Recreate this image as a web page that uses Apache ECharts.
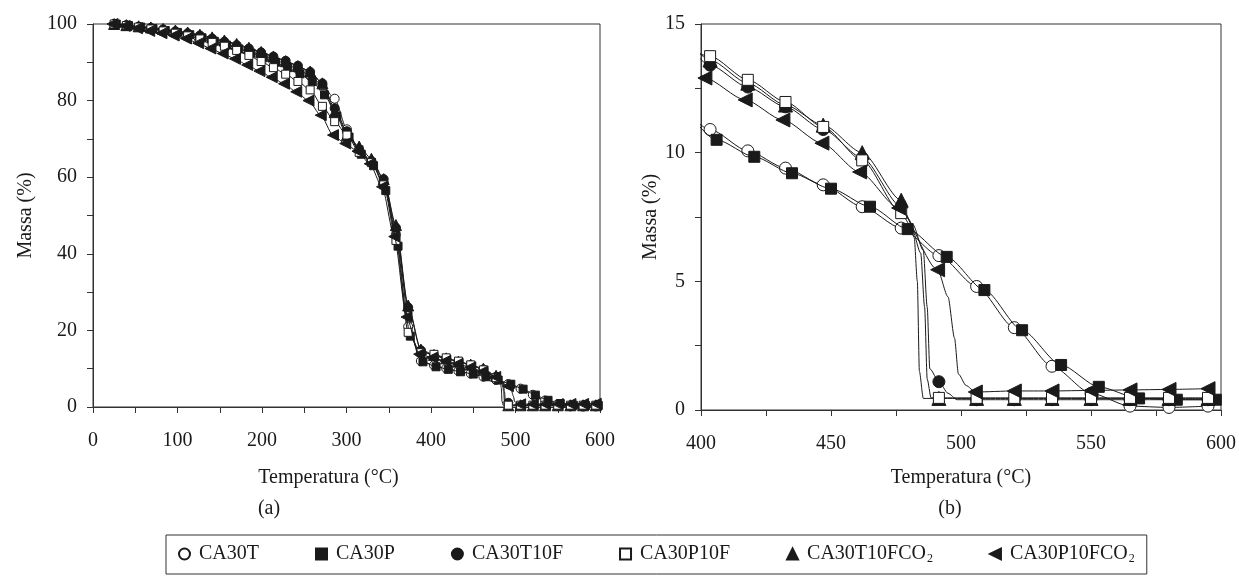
<!DOCTYPE html>
<html>
<head>
<meta charset="utf-8">
<script src="https://cdn.jsdelivr.net/npm/echarts@6/dist/echarts.min.js"></script>
<style>
html, body { margin: 0; background: #fff; }
#main { width: 1239px; height: 581px; }
</style>
</head>
<body>
<div id="main"></div>
<script>
// temperatures (°C) of the plotted points, three slightly shifted sample grids
var tempsA = [25, 39.5, 54, 68.5, 83, 97.5, 112, 126.5, 141, 155.5, 170, 184.5, 199, 213.5, 228, 242.5, 257, 271.5, 286, 300.5,
    315, 329.5, 344, 358.5, 373, 388, 403.5, 418, 432.5, 447, 462, 477, 491.5, 506, 520.5, 535, 550, 565, 580, 595];
var tempsB = [27.5, 42, 56.5, 71, 85.5, 100, 114.5, 129, 143.5, 158, 172.5, 187, 201.5, 216, 230.5, 245, 259.5, 274, 288.5, 303,
    317.5, 332, 346.5, 361, 375.5, 390.5, 406, 420.5, 435, 450, 465, 479.5, 494.5, 509, 523.5, 538.5, 553, 568.5, 583, 598];
var tempsC = [23, 37.5, 52, 66.5, 81, 95.5, 110, 124.5, 139, 153.5, 168, 182.5, 197, 211.5, 226, 240.5, 255, 269.5, 284, 298.5,
    313, 327.5, 342, 356.5, 371, 386, 401.5, 417, 431.5, 446.5, 461, 476, 491, 505.5, 520.5, 535, 550, 565, 580, 595];

// massa (%)
var ca30t = [100, 99.6, 99.2, 98.8, 98.4, 97.9, 97.3, 96.6, 95.8, 94.9, 94.0, 93.0, 91.9, 90.8, 89.6, 88.2, 86.5, 84.0, 80.5, 72.5,
    67.0, 64.0, 58.5, 45.0, 21.0, 12.0, 10.9, 10.07, 9.4, 8.75, 7.9, 7.07, 6.0, 4.8, 3.2, 1.7, 0.65, 0.15, 0.1, 0.15];
var ca30p = [100, 99.6, 99.2, 98.8, 98.3, 97.8, 97.2, 96.4, 95.5, 94.5, 93.5, 92.4, 91.2, 90.0, 88.6, 87.0, 85.0, 81.5, 76.0, 70.5,
    66.0, 63.0, 56.5, 42.0, 18.5, 11.8, 10.5, 9.84, 9.2, 8.6, 7.9, 7.03, 5.95, 4.66, 3.1, 1.75, 0.9, 0.45, 0.4, 0.4];
var ca30t10f = [100, 99.7, 99.3, 99.0, 98.6, 98.1, 97.6, 97.0, 96.2, 95.4, 94.5, 93.6, 92.6, 91.5, 90.4, 89.1, 87.5, 84.5, 78.0, 72.0,
    67.2, 64.2, 59.5, 46.8, 26.0, 14.8, 13.4, 12.55, 11.78, 10.9, 9.8, 7.9, 1.1, 0.4, 0.4, 0.4, 0.4, 0.4, 0.4, 0.4];
var ca30p10f = [100, 99.6, 99.2, 98.7, 98.2, 97.6, 96.9, 96.1, 95.2, 94.2, 93.1, 91.8, 90.2, 88.6, 86.9, 85.0, 82.8, 78.5, 74.5, 71.0,
    66.5, 63.8, 58.0, 43.5, 19.5, 14.2, 13.75, 12.83, 11.97, 11.0, 9.7, 7.65, 0.47, 0.47, 0.47, 0.47, 0.47, 0.47, 0.47, 0.47];
var ca30t10fco2 = [100, 99.7, 99.4, 99.1, 98.7, 98.3, 97.8, 97.2, 96.5, 95.7, 94.8, 93.8, 92.7, 91.5, 90.3, 89.0, 87.6, 84.5, 77.0, 71.0,
    68.0, 64.8, 59.5, 47.5, 26.5, 15.0, 13.6, 12.7, 11.85, 11.07, 10.0, 8.15, 0.45, 0.45, 0.45, 0.45, 0.45, 0.45, 0.45, 0.45];
var ca30p10fco2 = [100, 99.5, 98.9, 98.2, 97.6, 97.0, 96.2, 95.0, 93.6, 92.3, 90.9, 89.3, 87.7, 86.1, 84.4, 82.3, 80.0, 76.2, 71.0, 68.8,
    66.8, 63.5, 57.5, 44.5, 23.5, 13.8, 12.9, 12.05, 11.27, 10.37, 9.25, 7.85, 5.45, 0.7, 0.74, 0.74, 0.76, 0.78, 0.8, 0.83];

// line-only points of the sudden drops (no marker)
var ca30t10fDropT = [481.5, 485.5, 487, 488, 495, 498.5];
var ca30t10fDropM = [7.2, 6.2, 4.0, 1.6, 0.65, 0.4];
var ca30p10fDropT = [481, 484.5, 486, 487, 488.5];
var ca30p10fDropM = [7.1, 6.1, 4.0, 1.2, 0.47];
var ca30t10fco2DropT = [480, 482, 483.2, 484, 485.5];
var ca30t10fco2DropM = [7.4, 6.7, 5.0, 1.5, 0.45];
var ca30p10fco2DropT = [495, 497.5, 499, 502];
var ca30p10fco2DropM = [4.4, 2.8, 1.4, 0.95];

var FONT = '"Liberation Serif", "Times New Roman", serif';
var INK = '#1a1a1a';

function pts(temps, masses, dropT, dropM) {
    var out = [];
    temps.forEach(function(t, i) {
        out.push({ value: [t, masses[i]] });
    });
    (dropT || []).forEach(function(t, i) {
        out.push({ value: [t, dropM[i]], symbol: 'none' });
    });
    out.sort(function(a, b) { return a.value[0] - b.value[0]; });
    return out;
}

var leftTri = 'path://M0,5L10,0L10,10Z';

var defs = [
    { name: 'CA30T', data: pts(tempsA, ca30t), symbol: 'circle', fill: '#fff', size: [9, 12], z: 2 },
    { name: 'CA30P', data: pts(tempsB, ca30p), symbol: 'rect', fill: INK, size: [8, 11], z: 3 },
    { name: 'CA30T10F', data: pts(tempsA, ca30t10f, ca30t10fDropT, ca30t10fDropM), symbol: 'circle', fill: INK, size: [9, 12], z: 2 },
    { name: 'CA30P10F', data: pts(tempsA, ca30p10f, ca30p10fDropT, ca30p10fDropM), symbol: 'rect', fill: '#fff', size: [8, 11], z: 4 },
    { name: 'CA30T10FCO2', data: pts(tempsA, ca30t10fco2, ca30t10fco2DropT, ca30t10fco2DropM), symbol: 'triangle', fill: INK, size: [11, 14], z: 3 },
    { name: 'CA30P10FCO2', data: pts(tempsC, ca30p10fco2, ca30p10fco2DropT, ca30p10fco2DropM), symbol: leftTri, fill: INK, size: [11, 14], z: 5 }
];

var series = [];
[0, 1].forEach(function(g) {
    defs.forEach(function(d) {
        series.push({
            name: d.name,
            type: 'line',
            xAxisIndex: g,
            yAxisIndex: g,
            data: d.data,
            smooth: 0.25,
            smoothMonotone: 'x',
            symbol: d.symbol,
            symbolSize: d.size[g],
            showAllSymbol: true,
            clip: true,
            z: d.z,
            lineStyle: { color: INK, width: 1 },
            itemStyle: { color: d.fill, borderColor: INK, borderWidth: 1 },
            emphasis: { disabled: true },
            animation: false
        });
    });
});

function tickLabel(step) {
    return function(v) {
        return Math.abs(v / step - Math.round(v / step)) < 1e-6 ? String(v) : '';
    };
}

function xAx(g, min, max, interval, labelStep, gap, namePad) {
    return {
        type: 'value', gridIndex: g, min: min, max: max, interval: interval,
        axisLine: { lineStyle: { color: '#333', width: 1 } },
        axisTick: { length: 6, lineStyle: { color: '#333' } },
        splitLine: { show: false },
        axisLabel: { formatter: tickLabel(labelStep), fontSize: 20, fontFamily: FONT, color: INK, margin: 24 },
        name: 'Temperatura (°C)', nameLocation: 'middle', nameGap: gap,
        nameTextStyle: { fontSize: 20, fontFamily: FONT, color: INK, padding: namePad }
    };
}

function yAx(g, min, max, interval, labelStep, gap) {
    return {
        type: 'value', gridIndex: g, min: min, max: max, interval: interval,
        axisLine: { show: true, lineStyle: { color: '#333', width: 1 } },
        axisTick: { show: true, length: 6, lineStyle: { color: '#333' } },
        splitLine: { show: false },
        axisLabel: { formatter: tickLabel(labelStep), fontSize: 20, fontFamily: FONT, color: INK, margin: 16 },
        name: 'Massa (%)', nameLocation: 'middle', nameGap: gap,
        nameTextStyle: { fontSize: 20, fontFamily: FONT, color: INK }
    };
}

var legendIcons = {
    'CA30T': 'circle', 'CA30P': 'rect', 'CA30T10F': 'circle',
    'CA30P10F': 'rect', 'CA30T10FCO2': 'triangle', 'CA30P10FCO2': leftTri
};

var chart = echarts.init(document.getElementById('main'));
chart.setOption({
    backgroundColor: '#fff',
    animation: false,
    grid: [
        { left: 93, top: 24, width: 507, height: 383, show: true, borderColor: '#333', borderWidth: 1 },
        { left: 701, top: 24, width: 521, height: 386, show: true, borderColor: '#333', borderWidth: 1 }
    ],
    xAxis: [xAx(0, 0, 600, 50, 100, 61, [0, 36, 0, 0]), xAx(1, 400, 600, 25, 50, 58, [0, 0, 0, 0])],
    yAxis: [yAx(0, 0, 100, 10, 20, 57), yAx(1, 0, 15, 2.5, 5, 32)],
    legend: {
        left: 166, top: 535,
        padding: [9, 12, 9, 12],
        borderColor: '#333', borderWidth: 1,
        itemWidth: 11, itemHeight: 11, itemGap: 56,
        selectedMode: false,
        data: defs.map(function(d) { return { name: d.name, icon: legendIcons[d.name] }; }),
        formatter: function(name) {
            if (name.slice(-3) === 'CO2') {
                return '{t|' + name.slice(0, -1) + '}{s|2}';
            }
            return '{t|' + name + '}';
        },
        textStyle: {
            rich: {
                t: { fontSize: 20, fontFamily: FONT, color: INK, padding: [0, 0, 0, 4] },
                s: { fontSize: 12, fontFamily: FONT, color: INK, padding: [10, 0, 0, 1] }
            }
        }
    },
    graphic: [
        { type: 'text', x: 269, y: 509, style: { text: '(a)', font: '20px ' + FONT, fill: INK, textAlign: 'center', textVerticalAlign: 'middle' } },
        { type: 'text', x: 950, y: 509, style: { text: '(b)', font: '20px ' + FONT, fill: INK, textAlign: 'center', textVerticalAlign: 'middle' } }
    ],
    series: series
});
</script>
</body>
</html>
